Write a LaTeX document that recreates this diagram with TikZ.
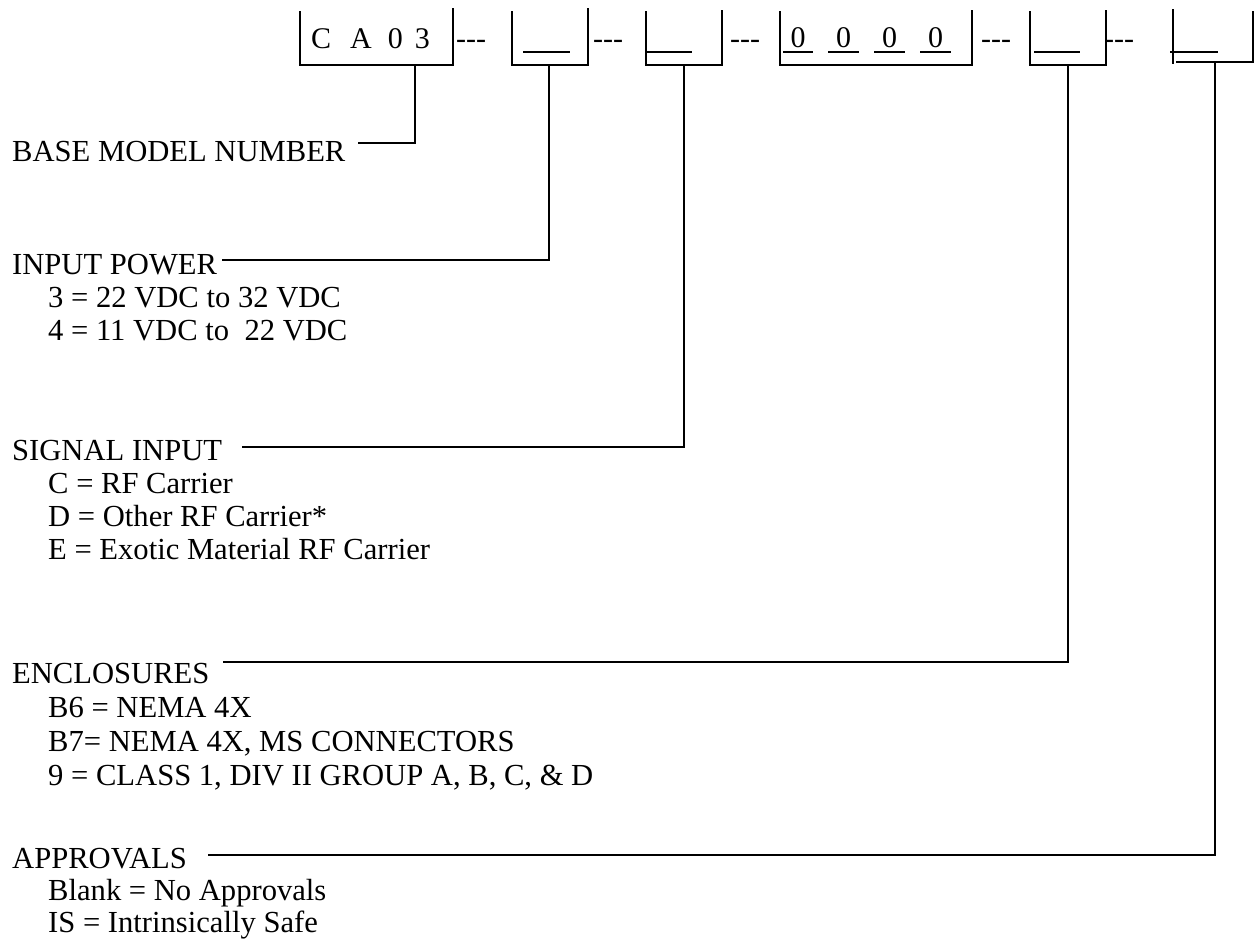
\documentclass[tikz,border=0pt]{standalone}
\usepackage{fontspec}
\setmainfont{Liberation Serif}
\begin{document}
\begin{tikzpicture}[x=1pt,y=-1pt,
  boxline/.style={line width=2.8pt,line cap=rect,line join=miter},
  stemline/.style={line width=2.6pt},
  uline/.style={line width=2.2pt},
  lab/.style={anchor=base west,inner sep=0pt,font=\fontsize{30.6}{34}\selectfont},
  boxtxt/.style={anchor=base west,inner sep=0pt,font=\fontsize{30}{34}\selectfont},
  dashtxt/.style={anchor=base west,inner sep=0pt,font=\fontsize{30}{34}\selectfont}]
\useasboundingbox (0,0) rectangle (1255,952);

% ---- boxes (open-top U shapes) ----
% box 1
\draw[boxline] (300,12) -- (300,65) -- (453,65) -- (453,9);
\node[boxtxt] (t1) at (311,49) {C\hspace{19pt}A\hspace{16pt}0\hspace{12pt}3};
\coordinate (b1) at (415,65);
\node[dashtxt] (d1) at (456,49) {-{}-{}-};
% box 2
\draw[boxline] (512,12) -- (512,65) -- (588,65) -- (588,9);
\draw[uline] (523,52) -- (570,52);
\coordinate (b2) at (549,65);
\node[dashtxt] (d2) at (593,49) {-{}-{}-};
% box 3
\draw[boxline] (646,12) -- (646,65) -- (722,65) -- (722,11);
\draw[uline] (646,52) -- (692,52);
\coordinate (b3) at (684,65);
\node[dashtxt] (d3) at (730,49) {-{}-{}-};
% box 4
\draw[boxline] (780,12) -- (780,65) -- (972,65) -- (972,11);
\foreach \xa/\xb/\nm in {783/813/z1,828/859/z2,874/905/z3,920/951/z4}{
  \draw[uline] (\xa,52) -- (\xb,52);
  \node[boxtxt,anchor=base] (\nm) at ({(\xa+\xb)/2},48) {0};
}
\node[dashtxt] (d4) at (981,49) {-{}-{}-};
% box 5
\draw[boxline] (1030,12) -- (1030,65) -- (1106,65) -- (1106,11);
\draw[uline] (1034,52) -- (1080,52);
\coordinate (b5) at (1068,65);
\node[dashtxt] (d5) at (1104,49) {-{}-{}-};
% box 6
\draw[boxline] (1173,10) -- (1173,63);
\draw[uline] (1170,52) -- (1218,52);
\draw[boxline] (1177,62) -- (1253,62) -- (1253,12);
\coordinate (b6) at (1215,62);

% ---- labels ----
\node[lab] (base) at (12,162) {BASE MODEL NUMBER};
\coordinate (e1) at (358,143);

\node[lab] (pow) at (12,274) {INPUT POWER};
\node[lab] (pow1) at (48,307) {3 = 22 VDC to 32 VDC};
\node[lab] (pow2) at (48,340) {4 = 11 VDC to \ 22 VDC};
\coordinate (e2) at (222,260);

\node[lab] (sig) at (12,460) {SIGNAL INPUT};
\node[lab] (sig1) at (48,493) {C = RF Carrier};
\node[lab] (sig2) at (48,526) {D = Other RF Carrier*};
\node[lab] (sig3) at (48,559) {E = Exotic Material RF Carrier};
\coordinate (e3) at (242,447);

\node[lab] (enc) at (12,683) {ENCLOSURES};
\node[lab] (enc1) at (48,717) {B6 = NEMA 4X};
\node[lab] (enc2) at (48,751) {B7= NEMA 4X, MS CONNECTORS};
\node[lab] (enc3) at (48,785) {9 = CLASS 1, DIV II GROUP A, B, C, \& D};
\coordinate (e5) at (223,662);

\node[lab] (app) at (12,868) {APPROVALS};
\node[lab] (app1) at (48,900) {Blank = No Approvals};
\node[lab] (app2) at (48,932) {IS = Intrinsically Safe};
\coordinate (e6) at (208,855);

% ---- connectors ----
\draw[stemline] (b1) |- (e1);
\draw[stemline] (b2) |- (e2);
\draw[stemline] (b3) |- (e3);
\draw[stemline] (b5) |- (e5);
\draw[stemline] (b6) |- (e6);
\end{tikzpicture}
\end{document}
